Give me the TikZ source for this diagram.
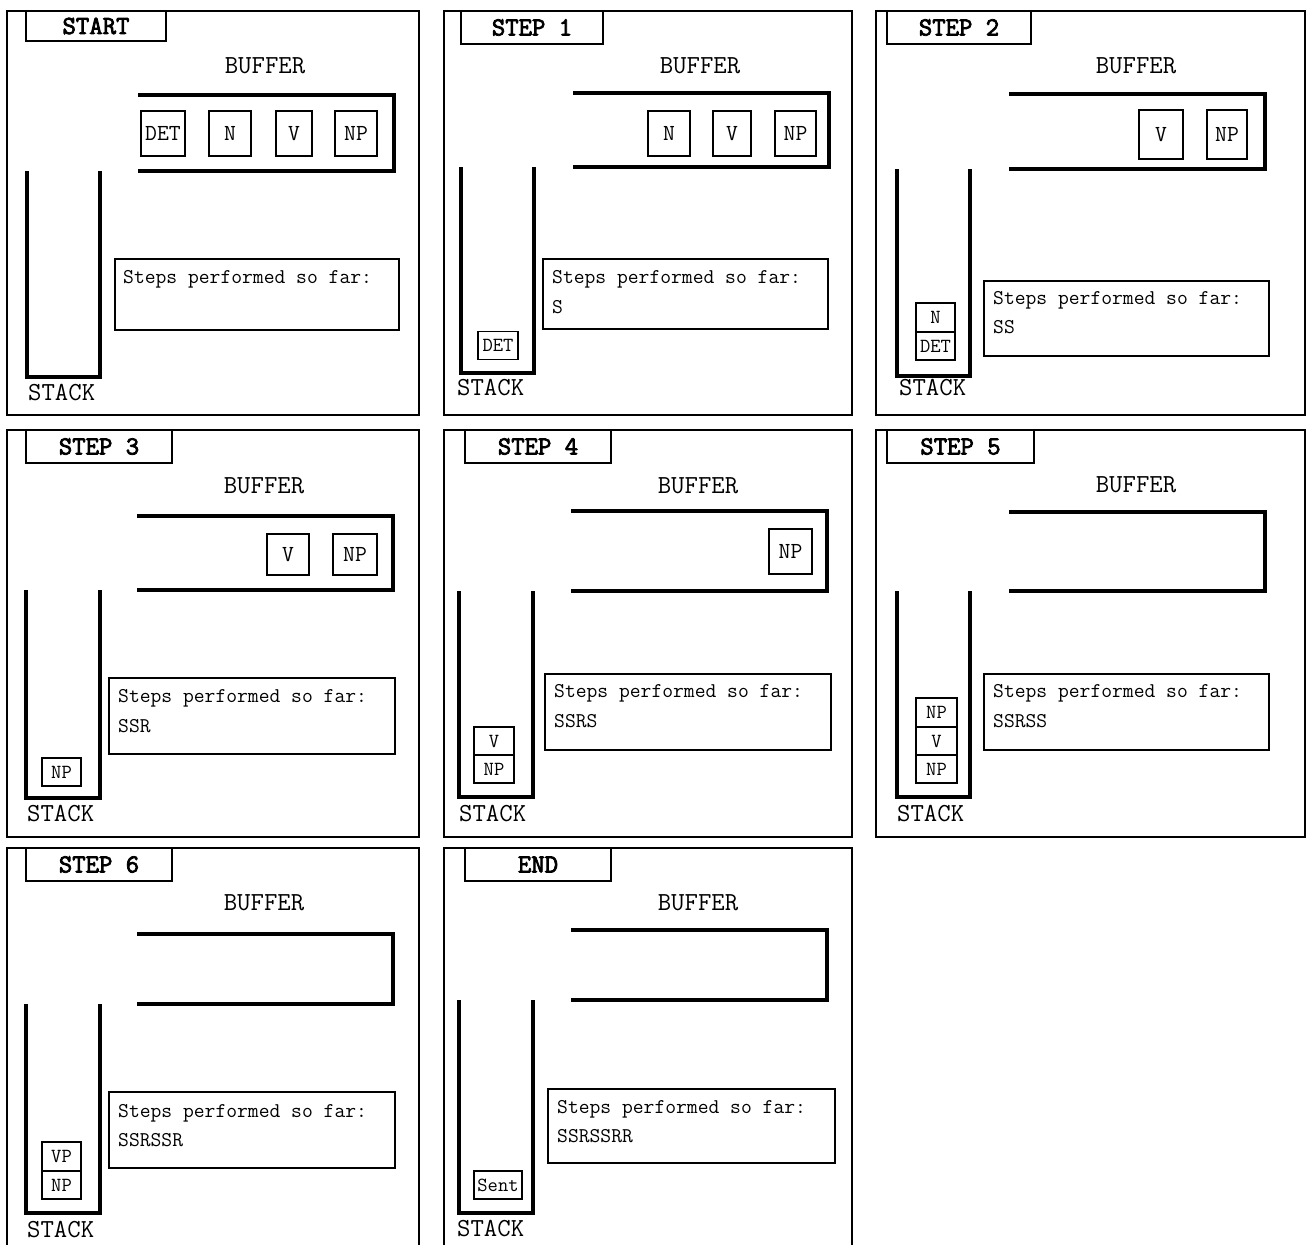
\documentclass[tikz,border=0pt]{standalone}
\usepackage{tikz}
\usepackage{fontspec}
\newfontfamily\titlefont{Latin Modern Mono}[FakeBold=3]

\begin{document}
\begin{tikzpicture}[x=1pt, y=-1pt,
  frame/.style={line width=1.6pt},
  wall/.style={line width=3.2pt},
  title/.style={draw, line width=1.6pt, inner sep=0pt, font=\titlefont\fontsize{26}{26}\selectfont},
  item/.style={draw, line width=1.6pt, inner sep=0pt, minimum height=45pt, font=\ttfamily\fontsize{23}{23}\selectfont},
  stackitem/.style={draw, line width=1.3pt, inner sep=0pt, minimum width=40pt, minimum height=28pt, font=\ttfamily\fontsize{20}{20}\selectfont},
  head/.style={inner sep=0pt, font=\ttfamily\fontsize{26}{26}\selectfont},
  steps/.style={inner sep=0pt, anchor=base west, font=\ttfamily\fontsize{21}{21}\selectfont}]
\useasboundingbox (0,0) rectangle (1307,1245);

% START
\draw[frame] (7,11) rectangle (419,415);
\node[title, minimum width=140pt, minimum height=30pt] (t0) at (96,26) {START};
\node[head, anchor=base] (b0) at (265,73) {BUFFER};
\draw[wall] (138,95) -- (394,95) -- (394,171) -- (138,171);
\node[item, minimum width=44pt] (b0a) at (163,133.5) {DET};
\node[item, minimum width=42pt] (b0b) at (230,133.5) {N};
\node[item, minimum width=36pt] (b0c) at (294,133.5) {V};
\node[item, minimum width=42pt] (b0d) at (356,133.5) {NP};
\draw[wall] (27,171) -- (27,377) -- (100,377) -- (100,171);
\node[head, anchor=base west] (s0) at (28,400) {STACK};
\draw[frame] (115,259) rectangle (399,330);
\node[steps] (f0) at (123,283) {Steps performed so far:};

% STEP 1
\draw[frame] (444,11) rectangle (852,415);
\node[title, minimum width=142pt, minimum height=33pt] (t1) at (532,27.5) {STEP 1};
\node[head, anchor=base] (b1) at (700,73) {BUFFER};
\draw[wall] (573,93) -- (829,93) -- (829,167) -- (573,167);
\node[item, minimum width=42pt] (b1a) at (669,133.5) {N};
\node[item, minimum width=38pt] (b1b) at (732,133.5) {V};
\node[item, minimum width=41pt] (b1c) at (795.5,133.5) {NP};
\draw[wall] (461,167) -- (461,373) -- (534,373) -- (534,167);
\node[stackitem] (s1a) at (498,345.5) {DET};
\node[head, anchor=base west] (s1) at (457,395) {STACK};
\draw[frame] (543,259) rectangle (828,329);
\node[steps] (f1) at (552,283) {Steps performed so far:};
\node[steps] (g1) at (552,313) {S};

% STEP 2
\draw[frame] (876,11) rectangle (1305,415);
\node[title, minimum width=144pt, minimum height=33pt] (t2) at (959,27.5) {STEP 2};
\node[head, anchor=base] (b2) at (1136,73) {BUFFER};
\draw[wall] (1009,94) -- (1265,94) -- (1265,169) -- (1009,169);
\node[item, minimum width=44pt, minimum height=49pt] (b2a) at (1161,134.5) {V};
\node[item, minimum width=40pt, minimum height=49pt] (b2b) at (1227,134.5) {NP};
\draw[wall] (897,169) -- (897,376) -- (970,376) -- (970,169);
\node[stackitem, minimum width=39pt, minimum height=29pt] (s2a) at (935.5,317.5) {N};
\node[stackitem, minimum width=39pt] (s2b) at (935.5,346) {DET};
\node[head, anchor=base west] (s2) at (899,395) {STACK};
\draw[frame] (984,281) rectangle (1269,356);
\node[steps] (f2) at (993,304) {Steps performed so far:};
\node[steps] (g2) at (993,333) {SS};

% STEP 3
\draw[frame] (7,430) rectangle (419,837);
\node[title, minimum width=146pt, minimum height=33pt] (t3) at (99,446.5) {STEP 3};
\node[head, anchor=base] (b3) at (264,493) {BUFFER};
\draw[wall] (137,516) -- (393,516) -- (393,590) -- (137,590);
\node[item, minimum width=42pt, minimum height=41pt] (b3a) at (288,554.5) {V};
\node[item, minimum width=44pt, minimum height=41pt] (b3b) at (355,554.5) {NP};
\draw[wall] (26,590) -- (26,798) -- (100,798) -- (100,590);
\node[stackitem, minimum width=39pt] (s3a) at (61.5,772) {NP};
\node[head, anchor=base west] (s3) at (27,821) {STACK};
\draw[frame] (109,678) rectangle (395,754);
\node[steps] (f3) at (118,702) {Steps performed so far:};
\node[steps] (g3) at (118,732) {SSR};

% STEP 4
\draw[frame] (444,430) rectangle (852,837);
\node[title, minimum width=146pt, minimum height=33pt] (t4) at (538,446.5) {STEP 4};
\node[head, anchor=base] (b4) at (698,493) {BUFFER};
\draw[wall] (571,511) -- (827,511) -- (827,591) -- (571,591);
\node[item, minimum width=43pt] (b4a) at (790.5,551.5) {NP};
\draw[wall] (459,591) -- (459,797) -- (533,797) -- (533,591);
\node[stackitem] (s4a) at (494,741) {V};
\node[stackitem] (s4b) at (494,769) {NP};
\node[head, anchor=base west] (s4) at (459,821) {STACK};
\draw[frame] (545,674) rectangle (831,750);
\node[steps] (f4) at (554,697) {Steps performed so far:};
\node[steps] (g4) at (554,727) {SSRS};

% STEP 5
\draw[frame] (876,430) rectangle (1305,837);
\node[title, minimum width=147pt, minimum height=33pt] (t5) at (960.5,446.5) {STEP 5};
\node[head, anchor=base] (b5) at (1136,492) {BUFFER};
\draw[wall] (1009,512) -- (1265,512) -- (1265,591) -- (1009,591);
\draw[wall] (897,591) -- (897,797) -- (970,797) -- (970,591);
\node[stackitem, minimum width=41pt, minimum height=29pt] (s5a) at (936.5,712.5) {NP};
\node[stackitem, minimum width=41pt] (s5b) at (936.5,741) {V};
\node[stackitem, minimum width=41pt] (s5c) at (936.5,769) {NP};
\node[head, anchor=base west] (s5) at (897,821) {STACK};
\draw[frame] (984,674) rectangle (1269,750);
\node[steps] (f5) at (993,697) {Steps performed so far:};
\node[steps] (g5) at (993,727) {SSRSS};

% STEP 6
\draw[frame] (7,848) rectangle (419,1250);
\node[title, minimum width=146pt, minimum height=33pt] (t6) at (99,864.5) {STEP 6};
\node[head, anchor=base] (b6) at (264,910) {BUFFER};
\draw[wall] (137,934) -- (393,934) -- (393,1004) -- (137,1004);
\draw[wall] (26,1004) -- (26,1213) -- (100,1213) -- (100,1004);
\node[stackitem, minimum width=39pt, minimum height=29pt] (s6a) at (61.5,1156.5) {VP};
\node[stackitem, minimum width=39pt] (s6b) at (61.5,1185) {NP};
\node[head, anchor=base west] (s6) at (27,1237) {STACK};
\draw[frame] (109,1092) rectangle (395,1168);
\node[steps] (f6) at (118,1117) {Steps performed so far:};
\node[steps] (g6) at (118,1146) {SSRSSR};

% END
\draw[frame] (444,848) rectangle (852,1250);
\node[title, minimum width=146pt, minimum height=33pt] (t7) at (538,864.5) {END};
\node[head, anchor=base] (b7) at (698,910) {BUFFER};
\draw[wall] (571,930) -- (827,930) -- (827,1000) -- (571,1000);
\draw[wall] (459,1000) -- (459,1213) -- (533,1213) -- (533,1000);
\node[stackitem, minimum width=48pt] (s7a) at (498,1185) {Sent};
\node[head, anchor=base west] (s7) at (457,1236) {STACK};
\draw[frame] (548,1089) rectangle (835,1163);
\node[steps] (f7) at (557,1113) {Steps performed so far:};
\node[steps] (g7) at (557,1142) {SSRSSRR};
\end{tikzpicture}
\end{document}
